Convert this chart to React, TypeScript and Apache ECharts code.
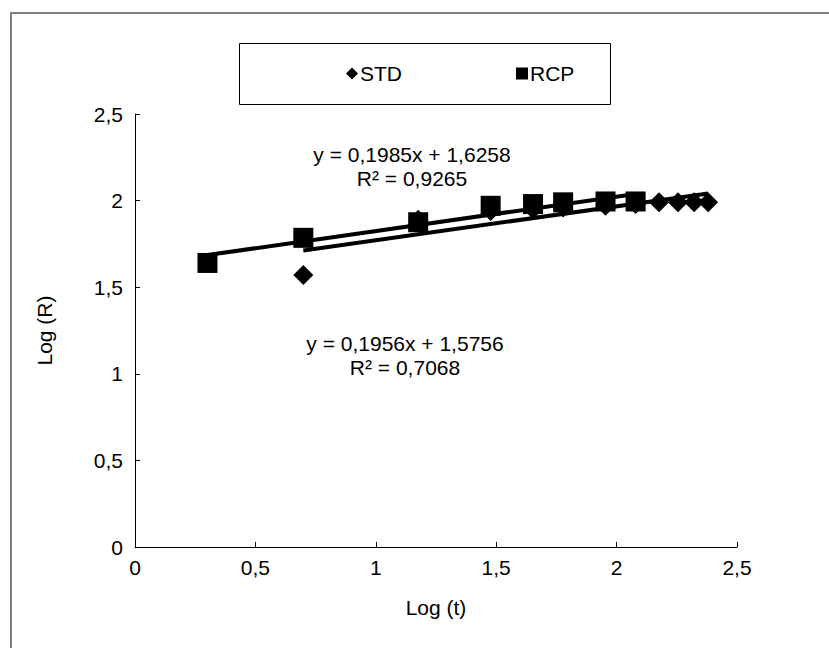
import React, { useEffect, useRef } from "react";
import * as echarts from "echarts";

const FONT = "'Liberation Sans', Arial, sans-serif";
const FS = 21;

// log(t) values for each series
const stdX = [0.699, 1.176, 1.477, 1.653, 1.778, 1.954, 2.079, 2.176, 2.255, 2.322, 2.38];
const stdY = [1.57, 1.89, 1.94, 1.95, 1.96, 1.97, 1.98, 1.99, 1.99, 1.99, 1.99];
const rcpX = [0.301, 0.699, 1.176, 1.477, 1.653, 1.778, 1.954, 2.079];
const rcpY = [1.64, 1.785, 1.875, 1.97, 1.98, 1.99, 1.995, 1.995];

// trendline coefficients (slope, intercept) and labels
const stdTrend = { slope: 0.1956, intercept: 1.5756 };
const rcpTrend = { slope: 0.1985, intercept: 1.6258 };
const stdTrendLabels = ["y = 0,1956x + 1,5756", "R² = 0,7068"];
const rcpTrendLabels = ["y = 0,1985x + 1,6258", "R² = 0,9265"];

const fmt = (v: number) => String(v).replace(".", ",");

function trendData(xs: number[], t: { slope: number; intercept: number }) {
  const x0 = Math.min(...xs);
  const x1 = Math.max(...xs);
  return [
    [x0, t.slope * x0 + t.intercept],
    [x1, t.slope * x1 + t.intercept],
  ];
}

const textEl = (text: string, x: number, y: number) => ({
  type: "text",
  x,
  y,
  style: { text, fontFamily: FONT, fontSize: FS, fill: "#000", textAlign: "center", textVerticalAlign: "middle" },
});

export default function App() {
  const ref = useRef<HTMLDivElement>(null);
  useEffect(() => {
    if (!ref.current) return;
    const chart = echarts.init(ref.current, undefined, { renderer: "svg" });
    const axisCommon = {
      type: "value" as const,
      min: 0,
      max: 2.5,
      interval: 0.5,
      splitLine: { show: false },
      axisLine: { show: true, onZero: false, lineStyle: { color: "#000", width: 1 } },
      axisTick: { show: true, inside: true, length: 5, lineStyle: { color: "#000" } },
      nameLocation: "middle" as const,
      nameTextStyle: { fontFamily: FONT, fontSize: FS, color: "#000" },
    };
    chart.setOption({
      animation: false,
      backgroundColor: "#fff",
      textStyle: { fontFamily: FONT },
      grid: { left: 135, right: 92, top: 114, bottom: 101 },
      xAxis: {
        ...axisCommon,
        name: "Log (t)",
        nameGap: 50,
        axisLabel: { fontFamily: FONT, fontSize: FS, color: "#000", margin: 10, formatter: (v: number) => fmt(v) },
      },
      yAxis: {
        ...axisCommon,
        name: "Log (R)",
        nameGap: 80,
        axisLabel: { fontFamily: FONT, fontSize: FS, color: "#000", margin: 12, formatter: (v: number) => fmt(v) },
      },
      legend: {
        data: ["STD", "RCP"],
        left: 346,
        top: 63,
        itemGap: 114,
        itemWidth: 12,
        itemHeight: 12,
        padding: 0,
        textStyle: { fontFamily: FONT, fontSize: FS, color: "#000", padding: [0, 0, 0, -3] },
      },
      graphic: [
        {
          type: "rect",
          shape: { x: 11, y: 13, width: 830, height: 650 },
          style: { fill: "none", stroke: "#808080", lineWidth: 2 },
          silent: true,
        },
        {
          type: "rect",
          shape: { x: 239.5, y: 43.5, width: 371, height: 61 },
          style: { fill: "none", stroke: "#000", lineWidth: 1 },
          silent: true,
        },
        textEl(rcpTrendLabels[0], 412, 154),
        textEl(rcpTrendLabels[1], 412, 178),
        textEl(stdTrendLabels[0], 405, 343),
        textEl(stdTrendLabels[1], 405, 367),
      ],
      series: [
        {
          name: "STD",
          type: "scatter",
          symbol: "diamond",
          symbolSize: 20,
          itemStyle: { color: "#000", opacity: 1 },
          data: stdX.map((x, i) => [x, stdY[i]]),
          z: 2,
        },
        {
          name: "RCP",
          type: "scatter",
          symbol: "rect",
          symbolSize: 20,
          itemStyle: { color: "#000", opacity: 1 },
          data: rcpX.map((x, i) => [x, rcpY[i]]),
          z: 3,
        },
        {
          name: "STD trend",
          type: "line",
          symbol: "none",
          lineStyle: { color: "#000", width: 4 },
          data: trendData(stdX, stdTrend),
          z: 4,
        },
        {
          name: "RCP trend",
          type: "line",
          symbol: "none",
          lineStyle: { color: "#000", width: 4 },
          data: trendData(rcpX, rcpTrend),
          z: 4,
        },
      ],
    });
    return () => chart.dispose();
  }, []);
  return (
    <div
      ref={ref}
      style={{ position: "fixed", left: 0, top: 0, width: 829, height: 648 }}
    />
  );
}
